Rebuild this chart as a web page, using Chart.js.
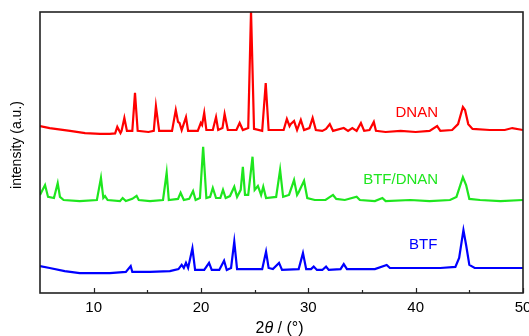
<!DOCTYPE html>
<html>
<head>
<meta charset="utf-8">
<script src="https://cdn.jsdelivr.net/npm/chart.js@4.4.1/dist/chart.umd.min.js"></script>
<style>
  html, body { margin: 0; padding: 0; background: #fff; }
  #xrdChart { display: block; }
</style>
</head>
<body>
<canvas id="xrdChart" width="529" height="336"></canvas>
<script>
// tick labels of the 2theta axis
const xTicks = [10, 20, 30, 40, 50]
const xMinorTicks = [15, 25, 35, 45]

const seriesNames = ['DNAN', 'BTF/DNAN', 'BTF']
// vertical stacking offset of every pattern (a.u.)
const seriesOffsets = [55, 30, 5]
const seriesColors = ['#ff0000', '#1ee61e', '#0000ff']

// DNAN pattern
const dnanTheta = [
  5.0, 5.9, 7.8, 9.2, 10.6, 11.5, 12.0, 12.2, 12.5, 12.6,
  12.86, 13.1, 13.6, 13.85, 14.1, 15.1, 15.6, 15.8, 16.1, 17.3,
  17.65, 17.86, 18.0, 18.2, 18.6, 18.8, 19.7, 19.98, 20.1, 20.3,
  20.5, 21.1, 21.4, 21.6, 22.0, 22.2, 22.5, 23.3, 23.6, 23.9,
  24.4, 24.66, 24.94, 25.7, 26.03, 26.3, 27.7, 28.0, 28.25, 28.35,
  28.67, 28.95, 29.3, 29.6, 30.1, 30.4, 30.7, 31.3, 31.65, 32.0,
  32.3, 33.3, 33.7, 34.1, 34.5, 34.9, 35.2, 35.7, 36.1, 36.3,
  37.2, 38.6, 40.0, 41.3, 42.0, 42.3, 43.4, 43.95, 44.4, 44.6,
  44.9, 45.3, 46.9, 48.3, 49.0, 50.0
]
const dnanIntensity = [
  4.4, 3.7, 2.7, 1.9, 1.6, 1.6, 1.8, 4.1, 1.9, 2.7,
  7.3, 2.7, 2.7, 16.2, 2.7, 2.3, 2.7, 11.5, 2.7, 2.7,
  10.1, 5.9, 5.5, 3.0, 7.6, 2.7, 2.7, 5.5, 4.8, 9.1,
  3.0, 3.0, 7.6, 3.0, 3.7, 8.7, 3.0, 3.0, 5.5, 3.0,
  3.7, 45.5, 3.4, 2.7, 19.7, 3.0, 3.0, 6.9, 4.4, 5.1,
  6.2, 3.0, 6.6, 3.0, 3.7, 7.3, 3.0, 2.7, 3.4, 5.1,
  2.7, 3.7, 2.7, 3.7, 2.7, 5.5, 2.7, 3.0, 5.9, 2.7,
  2.3, 2.7, 2.3, 2.7, 4.4, 2.7, 3.0, 5.1, 11.2, 10.1,
  5.1, 3.4, 3.0, 3.0, 3.7, 3.0
]

// BTF/DNAN co-crystal pattern
const mixTheta = [
  5.0, 5.47, 5.75, 6.3, 6.65, 6.86, 7.2, 8.7, 10.3, 10.68,
  10.9, 11.06, 11.3, 12.45, 12.7, 13.0, 13.6, 14.0, 14.2, 15.25,
  16.46, 16.8, 17.0, 17.86, 18.1, 18.4, 18.9, 19.26, 19.5, 19.9,
  20.2, 20.5, 20.85, 21.1, 21.4, 21.8, 22.05, 22.3, 22.7, 23.1,
  23.36, 23.7, 23.9, 24.1, 24.4, 24.8, 25.0, 25.3, 25.6, 25.8,
  26.06, 27.0, 27.37, 27.65, 28.2, 28.67, 28.95, 29.1, 29.6, 29.9,
  30.6, 31.6, 32.3, 32.6, 33.4, 34.5, 34.8, 36.2, 36.9, 37.2,
  39.5, 41.3, 43.2, 43.8, 44.4, 44.7, 45.0, 46.0, 47.9, 50.0
]
const mixIntensity = [
  4.9, 8.4, 4.2, 3.8, 9.1, 4.2, 3.1, 2.7, 3.1, 11.0,
  3.8, 4.5, 3.1, 2.7, 3.8, 2.7, 3.5, 4.6, 3.1, 2.7,
  3.1, 12.8, 3.1, 3.5, 5.7, 3.1, 3.5, 6.3, 3.1, 3.8,
  22.0, 3.8, 4.2, 7.4, 3.8, 3.8, 6.7, 3.8, 4.5, 7.8,
  4.2, 6.7, 14.9, 4.9, 4.9, 18.5, 6.7, 8.1, 4.9, 7.8,
  3.8, 4.2, 13.8, 4.2, 4.9, 10.2, 4.9, 5.9, 9.9, 3.8,
  3.1, 3.1, 4.9, 3.5, 3.1, 4.3, 3.1, 2.7, 3.8, 2.7,
  3.1, 2.7, 3.1, 4.2, 11.2, 8.4, 3.5, 3.1, 2.7, 3.1
]

// BTF pattern
const btfTheta = [
  5.0, 5.9, 7.3, 8.7, 10.1, 11.5, 13.0, 13.45, 13.6, 15.25,
  17.1, 17.9, 18.2, 18.4, 18.6, 18.8, 19.2, 19.45, 20.3, 20.75,
  21.0, 21.7, 22.15, 22.4, 22.8, 23.1, 23.36, 25.7, 26.06, 26.3,
  26.7, 27.27, 27.55, 29.1, 29.5, 29.8, 30.25, 30.5, 30.8, 31.3,
  31.65, 31.9, 33.0, 33.3, 33.6, 34.8, 36.2, 37.3, 37.6, 38.55,
  40.4, 42.3, 43.7, 44.05, 44.45, 44.7, 45.0, 45.5, 47.9, 50.0
]
const btfIntensity = [
  4.6, 3.9, 2.8, 2.1, 2.1, 2.1, 2.5, 4.6, 2.5, 2.5,
  2.8, 3.5, 5.0, 3.9, 5.7, 3.9, 10.9, 3.2, 3.2, 5.7,
  3.2, 3.2, 6.5, 3.2, 3.9, 13.3, 3.5, 3.5, 9.7, 3.9,
  3.5, 5.7, 3.2, 3.5, 9.2, 3.5, 3.5, 4.4, 3.2, 3.2,
  4.4, 3.2, 3.5, 5.3, 3.5, 3.5, 3.5, 5.0, 3.9, 3.9,
  3.9, 3.9, 4.3, 7.5, 17.4, 12.1, 5.0, 3.9, 3.9, 3.9
]

const thetas = [dnanTheta, mixTheta, btfTheta]
const intensities = [dnanIntensity, mixIntensity, btfIntensity]

// where the series names sit (2theta, a.u.)
const nameSpots = [[40.1, 64.1], [38.6, 40.2], [40.7, 17.1]]

const FONT = "'Liberation Sans', Arial, sans-serif"

const datasets = seriesNames.map((name, i) => ({
  label: name,
  data: thetas[i].map((t, k) => ({ x: t, y: intensities[i][k] + seriesOffsets[i] })),
  borderColor: seriesColors[i],
  borderWidth: 2.2,
  pointRadius: 0,
  tension: 0,
  fill: false
}))

// frame, inward ticks, names and axis titles
const decorations = {
  id: 'decorations',
  afterDraw (chart) {
    const { ctx, chartArea: { left, right, top, bottom } } = chart
    const xs = chart.scales.x
    const ys = chart.scales.y
    ctx.save()

    ctx.strokeStyle = '#222'
    ctx.lineWidth = 1.6
    ctx.strokeRect(left, top, right - left, bottom - top)

    ctx.lineWidth = 1.2
    ctx.beginPath()
    xTicks.forEach(v => {
      const px = Math.round(xs.getPixelForValue(v)) + 0.5
      ctx.moveTo(px, bottom)
      ctx.lineTo(px, bottom - 5)
    })
    xMinorTicks.forEach(v => {
      const px = Math.round(xs.getPixelForValue(v)) + 0.5
      ctx.moveTo(px, bottom)
      ctx.lineTo(px, bottom - 3)
    })
    ctx.stroke()

    // series names
    ctx.font = `15px ${FONT}`
    ctx.textAlign = 'center'
    ctx.textBaseline = 'middle'
    seriesNames.forEach((name, i) => {
      ctx.fillStyle = seriesColors[i]
      ctx.fillText(name, xs.getPixelForValue(nameSpots[i][0]), ys.getPixelForValue(nameSpots[i][1]))
    })

    // y title
    ctx.fillStyle = '#000'
    ctx.font = `14px ${FONT}`
    ctx.save()
    ctx.translate(17, 145)
    ctx.rotate(-Math.PI / 2)
    ctx.fillText('intensity (a.u.)', 0, 0)
    ctx.restore()

    // x title: 2θ / (°) with italic theta
    const parts = [['2', `16px ${FONT}`], ['θ', `italic 16px ${FONT}`], [' / (°)', `16px ${FONT}`]]
    let total = 0
    parts.forEach(p => { ctx.font = p[1]; total += ctx.measureText(p[0]).width })
    let cx = (left + right) / 2 - 2 - total / 2
    ctx.textAlign = 'left'
    ctx.textBaseline = 'alphabetic'
    parts.forEach(p => {
      ctx.font = p[1]
      ctx.fillText(p[0], cx, 333)
      cx += ctx.measureText(p[0]).width
    })
    ctx.restore()
  }
}

new Chart(document.getElementById('xrdChart'), {
  type: 'line',
  data: { datasets },
  plugins: [decorations],
  options: {
    responsive: false,
    animation: false,
    devicePixelRatio: 1,
    layout: { padding: { top: 12, right: 6, left: 0, bottom: 0 } },
    plugins: { legend: { display: false }, tooltip: { enabled: false } },
    scales: {
      x: {
        type: 'linear',
        min: 5,
        max: 50,
        afterBuildTicks (scale) { scale.ticks = xTicks.map(v => ({ value: v })) },
        afterFit (scale) {
          scale.height = 43
          scale.paddingLeft = 0
          scale.paddingRight = 0
        },
        grid: { display: false, drawTicks: false },
        border: { display: false },
        ticks: { color: '#000', padding: 6, maxRotation: 0, font: { family: FONT, size: 15 } }
      },
      y: {
        min: 0,
        max: 100,
        afterFit (scale) { scale.width = 40 },
        grid: { display: false, drawTicks: false },
        border: { display: false },
        ticks: { display: false }
      }
    }
  }
})
</script>
</body>
</html>
